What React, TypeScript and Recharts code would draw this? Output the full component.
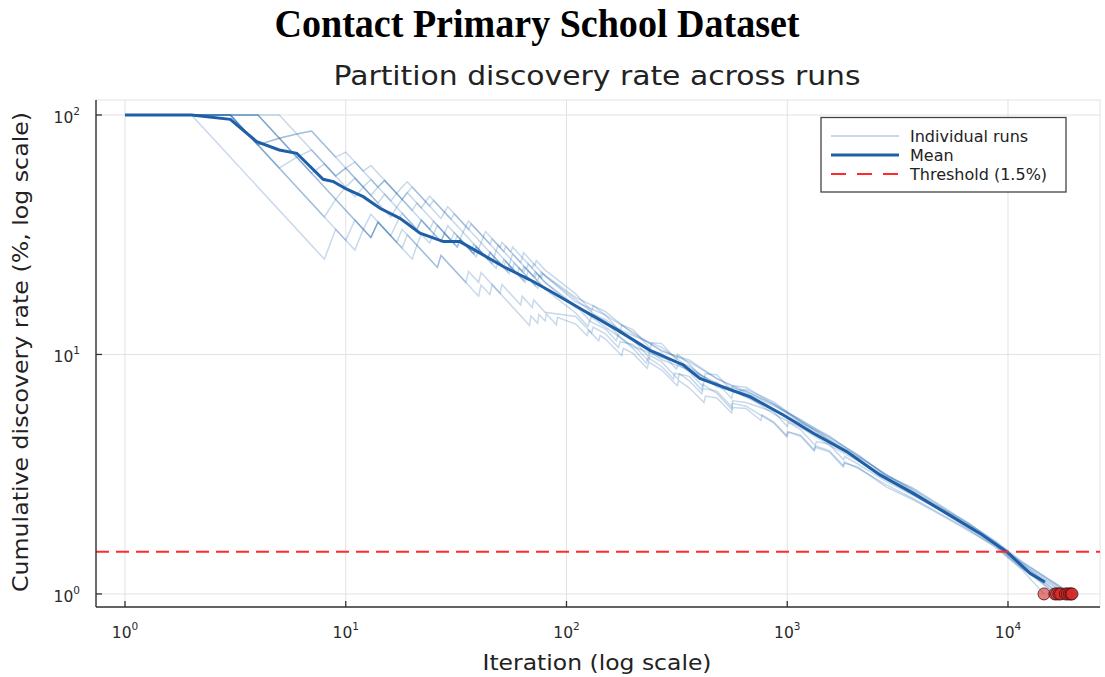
import React from 'react';
import { ComposedChart, Line, Scatter, XAxis, YAxis, CartesianGrid, ReferenceLine } from 'recharts';

type P = [number, number];

const RUN_1: P[] = [[1,100],[2,100],[8,25],[9,33.3],[11,27.3],[12,33.3],[13,30.8],[14,35.7],[17,29.4],[18,33.3],[21,28.6],[22,31.8],[24,29.2],[26,34.6],[32,28.1],[33,30.3],[37,27],[38,28.9],[44,25],[45,26.7],[51,23.5],[52,25],[57,22.8],[58,24.1],[64,21.9],[65,23.1],[71,21.1],[72,22.2],[77,20.8],[78,21.8],[110,17.3],[150,15.1],[200,12.2],[270,10.4],[360,9.31],[480,7.93],[650,7.02],[870,6.16],[1150,5.2],[1550,4.53],[2100,3.78],[2800,3.13],[3700,2.75],[5000,2.31],[6600,1.96],[8800,1.66],[11500,1.37],[19300,1.0]];
const RUN_2: P[] = [[1,100],[3,100],[10,30],[11,36.4],[13,30.8],[14,35.7],[20,25],[21,28.6],[26,23.1],[27,25.9],[40,17.5],[41,19.5],[45,17.8],[46,19.6],[68,13.2],[69,14.5],[74,13.5],[75,14.7],[80,13.8],[81,14.8],[90,13.3],[91,14.3],[110,13.4],[124,12.0],[126,12.6],[140,11.4],[142,12.0],[150,11.6],[178,9.9],[181,10.6],[200,10.1],[232,8.75],[236,9.3],[270,8.61],[318,7.4],[322,7.8],[360,7.24],[420,6.3],[426,6.7],[480,6.58],[560,5.7],[566,6.0],[650,5.95],[760,5.3],[768,5.6],[870,5.22],[1000,4.55],[1012,4.75],[1150,4.6],[1330,3.98],[1345,4.15],[1550,3.97],[1800,3.42],[1820,3.55],[2100,3.34],[2800,2.86],[3700,2.51],[5000,2.15],[6600,1.86],[8800,1.56],[11500,1.27],[14560,1.0]];
const RUN_3: P[] = [[1,100],[3,100],[4,75],[5,80],[6,83.3],[7,85.7],[12,50],[13,53.8],[16,43.8],[17,47.1],[20,40],[21,42.9],[28,32.1],[29,34.5],[33,30.3],[34,32.4],[40,27.5],[41,29.3],[47,25.5],[48,27.1],[55,23.6],[56,25],[63,22.2],[64,23.4],[72,20.8],[73,21.9],[80,20],[110,15.7],[150,14.0],[200,11.5],[270,9.5],[360,8.62],[480,7.63],[650,6.62],[870,5.87],[1150,5.15],[1550,4.31],[2100,3.67],[2800,3.01],[3700,2.64],[5000,2.28],[6600,1.94],[8800,1.61],[11500,1.35],[17000,1.0]];
const RUN_4: P[] = [[1,100],[4,100],[13,30.8],[14,35.7],[16,31.3],[17,35.3],[18,38.9],[21,33.3],[22,36.4],[27,29.6],[28,32.1],[31,29],[32,31.3],[39,25.6],[40,27.5],[44,25],[45,26.7],[52,23.1],[53,24.5],[60,21.7],[61,23],[66,21.2],[67,22.4],[74,20.3],[75,21.3],[80,20],[110,16.0],[150,13.0],[200,10.8],[270,9.7],[360,8.96],[480,7.33],[650,6.75],[870,5.64],[1150,4.95],[1550,4.18],[2100,3.59],[2800,3.07],[3700,2.59],[5000,2.22],[6600,1.92],[8800,1.63],[11500,1.32],[16300,1.0]];
const RUN_5: P[] = [[1,100],[5,100],[9,55.6],[10,60],[11,63.6],[14,50],[15,53.3],[18,44.4],[19,47.4],[20,50],[24,41.7],[25,44],[30,36.7],[31,38.7],[35,34.3],[36,36.1],[42,31],[43,32.6],[50,28],[51,29.4],[56,26.8],[57,28.1],[63,25.4],[64,26.6],[72,23.6],[73,24.7],[80,22.5],[110,17.9],[130,15.2],[132,16.0],[150,14.6],[175,12.5],[178,13.3],[200,12.7],[240,10.6],[243,11.2],[270,11.1],[315,9.5],[319,10.0],[360,9.14],[420,7.85],[425,8.3],[480,8.23],[560,7.05],[565,7.4],[650,7.29],[870,6.22],[1150,5.3],[1550,4.57],[2100,3.74],[2800,3.16],[3700,2.72],[5000,2.28],[6600,1.98],[8800,1.64],[11500,1.36],[19500,1.0]];
const RUN_6: P[] = [[1,100],[4,100],[6,66.7],[7,71.4],[9,55.6],[10,60],[14,42.9],[15,46.7],[17,41.2],[18,44.4],[24,33.3],[25,36],[32,28.1],[33,30.3],[38,26.3],[39,28.2],[48,22.9],[49,24.5],[54,22.2],[55,23.6],[64,20.3],[65,21.5],[72,19.4],[73,20.5],[80,18.75],[110,14.9],[125,13.1],[127,13.8],[150,12.8],[168,11.4],[171,12.0],[200,10.6],[230,9.2],[234,9.7],[270,8.91],[305,7.9],[309,8.35],[360,8.1],[410,7.1],[415,7.5],[480,6.88],[560,5.9],[565,6.25],[650,6.08],[870,5.17],[990,4.55],[1000,4.75],[1150,4.55],[1320,3.96],[1335,4.1],[1550,3.92],[1790,3.4],[1810,3.52],[2100,3.38],[2800,2.8],[3700,2.48],[5000,2.13],[6600,1.84],[8800,1.58],[11500,1.28],[16600,1.0]];
const RUN_7: P[] = [[1,100],[3,100],[5,60],[6,66.7],[9,44.4],[10,50],[11,54.5],[13,46.2],[14,50],[15,53.3],[18,44.4],[19,47.4],[22,40.9],[23,43.5],[27,37],[28,39.3],[34,32.4],[35,34.3],[41,29.3],[42,31],[48,27.1],[49,28.6],[56,25],[57,26.3],[66,22.7],[67,23.9],[76,21.1],[77,22.1],[80,21.25],[110,17.0],[150,13.5],[200,12.0],[270,10.7],[360,8.79],[480,7.48],[650,7.02],[870,6.22],[1150,5.25],[1550,4.4],[2100,3.74],[2800,3.16],[3700,2.69],[5000,2.24],[6600,1.94],[8800,1.61],[11500,1.33],[18600,1.0]];
const RUN_8: P[] = [[1,100],[3,100],[4,75],[8,37.5],[9,44.4],[12,33.3],[13,38.5],[18,27.8],[19,31.6],[26,23.1],[27,25.9],[35,20],[36,22.2],[40,20],[41,22],[50,18],[51,19.6],[62,16.1],[63,17.5],[70,15.7],[71,16.9],[80,15],[110,14.4],[130,12.3],[132,13.0],[150,12.2],[172,10.7],[175,11.3],[200,11.0],[235,9.4],[239,9.9],[270,9.31],[320,7.9],[325,8.3],[360,7.76],[410,6.85],[416,7.2],[480,7.03],[560,6.05],[566,6.4],[650,6.3],[870,5.75],[1000,5.0],[1012,5.2],[1150,4.85],[1340,4.17],[1355,4.33],[1550,4.22],[1800,3.63],[1820,3.75],[2100,3.48],[2800,2.95],[3700,2.59],[5000,2.22],[6600,1.88],[8800,1.59],[11500,1.29],[17300,1.0]];
const RUN_9: P[] = [[1,100],[4,100],[5,80],[6,83.3],[7,85.7],[9,66.7],[10,70],[12,58.3],[13,61.5],[17,47.1],[18,50],[19,52.6],[23,43.5],[24,45.8],[28,39.3],[29,41.4],[36,33.3],[37,35.1],[45,28.9],[46,30.4],[52,26.9],[53,28.3],[62,24.2],[63,25.4],[70,22.9],[71,23.9],[80,21.25],[110,16.6],[150,14.6],[200,12.4],[270,10.3],[360,9.48],[480,7.93],[650,6.89],[870,6.1],[1150,5.35],[1550,4.48],[2100,3.81],[2800,3.13],[3700,2.77],[5000,2.33],[6600,1.98],[8800,1.64],[11500,1.35],[19000,1.0]];
const RUN_10: P[] = [[1,100],[3,100],[4,75],[5,80],[7,57.1],[8,62.5],[11,45.5],[12,50],[16,37.5],[17,41.2],[21,33.3],[22,36.4],[27,29.6],[28,32.1],[30,30],[31,32.3],[38,26.3],[39,28.2],[46,23.9],[47,25.5],[55,21.8],[56,23.2],[65,20],[66,21.2],[74,18.9],[75,20],[80,18.75],[110,16.0],[128,13.8],[130,14.5],[150,13.8],[172,12.0],[175,12.6],[200,11.5],[235,9.8],[238,10.4],[270,10.1],[315,8.7],[320,9.1],[360,8.45],[415,7.35],[420,7.75],[480,7.63],[560,6.55],[566,6.9],[650,7.16],[870,6.34],[1150,5.25],[1550,4.4],[2100,3.63],[2800,3.1],[3700,2.67],[5000,2.24],[6600,1.92],[8800,1.59],[11500,1.31],[18200,1.0]];

const RUNS: P[][] = [RUN_1, RUN_2, RUN_3, RUN_4, RUN_5, RUN_6, RUN_7, RUN_8, RUN_9, RUN_10];

const MEAN: P[] = [[1,100],[2,100],[3,95.9],[3.95,77.4],[5,71.4],[6,69.2],[7.9,53.9],[8.8,52.7],[10.1,49],[12,45.6],[14.3,40.8],[17.6,37],[18.9,35.3],[21.7,32.1],[27.7,29.6],[32.9,29.6],[40.6,26.5],[51.7,23.3],[68.3,20.5],[84.2,18.4],[119,15.3],[169,12.7],[239,10.4],[338,9.04],[402,7.95],[532,7.22],[678,6.66],[960,5.59],[1312,4.69],[1858,3.93],[2630,3.14],[3726,2.63],[5275,2.17],[7470,1.79],[9860,1.5],[12580,1.22],[14700,1.12]];

const RUN_ENDS = [14560, 16300, 16600, 17000, 17300, 18200, 18600, 19000, 19300, 19500];
const END_RATE = 1;
const THRESHOLD = 1.5;

const X_TICKS = [1, 10, 100, 1000, 10000];
const Y_TICKS = [1, 10, 100];

const TITLE = 'Contact Primary School Dataset';
const SUBTITLE = 'Partition discovery rate across runs';
const X_LABEL = 'Iteration (log scale)';
const Y_LABEL = 'Cumulative discovery rate (%, log scale)';
const LEGEND_LABELS = ['Individual runs', 'Mean', 'Threshold (1.5%)'];

const MEAN_COLOR = '#1f5fa6';
const RUN_COLOR = '#2b6cb0';
const RED = '#ff2a2a';
const AXIS = '#333333';
const FONT = '"DejaVu Sans", Arial, sans-serif';

const toObj = (arr: P[]) => arr.map(([x, y]) => ({ x, y }));

const XTick = (props: any) => {
  const { x, y, payload } = props;
  const e = Math.round(Math.log10(payload.value));
  return (
    <g>
      <line x1={x} x2={x} y1={y} y2={y - 6} stroke={AXIS} strokeWidth={1.3} />
      <text x={x} y={y + 31} textAnchor="middle" fontFamily={FONT} fontSize={15.5} fill="#2a2a2a">
        10<tspan dy={-8} fontSize={10.5}>{e}</tspan>
      </text>
    </g>
  );
};

const YTick = (props: any) => {
  const { x, y, payload } = props;
  const e = Math.round(Math.log10(payload.value));
  return (
    <g>
      <line x1={x} x2={x + 6} y1={y} y2={y} stroke={AXIS} strokeWidth={1.3} />
      <text x={x - 16} y={y + 8} textAnchor="end" fontFamily={FONT} fontSize={15.5} fill="#2a2a2a">
        10<tspan dy={-8} fontSize={10.5}>{e}</tspan>
      </text>
    </g>
  );
};

const Dot = (props: any) => {
  const { cx, cy } = props;
  return <circle cx={cx} cy={cy} r={6} fill="rgba(215,40,40,0.6)" stroke="#4a1010" strokeOpacity={0.8} strokeWidth={1} />;
};

export default function App() {
  return (
    <div style={{ position: 'absolute', left: 0, top: 0, width: 1105, height: 677, background: '#fff' }}>
      <ComposedChart width={1105} height={677} margin={{ top: 100, right: 5, left: 0, bottom: 0 }}>
        <CartesianGrid stroke="#e2e2e2" strokeWidth={1} />
        <XAxis
          dataKey="x"
          type="number"
          scale="log"
          domain={[0.739, 26110]}
          allowDataOverflow
          ticks={X_TICKS}
          height={70}
          tickSize={0}
          tickMargin={0}
          tickLine={false}
          axisLine={{ stroke: AXIS, strokeWidth: 1.4 }}
          tick={<XTick />}
          interval={0}
        />
        <YAxis
          dataKey="y"
          type="number"
          scale="log"
          domain={[0.882, 115.5]}
          allowDataOverflow
          ticks={Y_TICKS}
          width={96}
          tickSize={0}
          tickMargin={0}
          tickLine={false}
          axisLine={{ stroke: AXIS, strokeWidth: 1.4 }}
          tick={<YTick />}
          interval={0}
        />
        {RUNS.map((r, i) => (
          <Line
            key={'run' + i}
            data={toObj(r)}
            dataKey="y"
            type="linear"
            stroke={RUN_COLOR}
            strokeOpacity={0.26}
            strokeWidth={1.5}
            dot={false}
            activeDot={false}
            isAnimationActive={false}
          />
        ))}
        <Line
          data={toObj(MEAN)}
          dataKey="y"
          type="linear"
          stroke={MEAN_COLOR}
          strokeWidth={3}
          dot={false}
          activeDot={false}
          isAnimationActive={false}
        />
        <ReferenceLine y={THRESHOLD} stroke={RED} strokeWidth={2} strokeDasharray="13 7" />
        <Scatter
          data={RUN_ENDS.map((x) => ({ x, y: END_RATE }))}
          dataKey="y"
          shape={<Dot />}
          isAnimationActive={false}
        />
      </ComposedChart>
      <svg width={1105} height={677} style={{ position: 'absolute', left: 0, top: 0, pointerEvents: 'none' }}>
        <text x={537} y={37} textAnchor="middle" fontFamily='"Liberation Serif", "Times New Roman", serif' fontWeight="bold" fontSize={39} textLength={525} lengthAdjust="spacingAndGlyphs" fill="#000">{TITLE}</text>
        <text x={597} y={85} textAnchor="middle" fontFamily={FONT} fontSize={26} textLength={527} lengthAdjust="spacingAndGlyphs" fill="#222">{SUBTITLE}</text>
        <text x={597} y={670} textAnchor="middle" fontFamily={FONT} fontSize={21} textLength={229} lengthAdjust="spacingAndGlyphs" fill="#222">{X_LABEL}</text>
        <text transform="translate(28,352) rotate(-90)" x={0} y={0} textAnchor="middle" fontFamily={FONT} fontSize={21} textLength={480} lengthAdjust="spacingAndGlyphs" fill="#222">{Y_LABEL}</text>
        <g>
          <rect x={821} y={117.5} width={245} height={74.5} fill="#fff" stroke="#444" strokeWidth={1.3} />
          <line x1={831} x2={899} y1={136} y2={136} stroke="#c9d9ec" strokeWidth={2} />
          <line x1={831} x2={899} y1={155} y2={155} stroke={MEAN_COLOR} strokeWidth={3} />
          <line x1={831} x2={899} y1={174} y2={174} stroke={RED} strokeWidth={2} strokeDasharray="15 11" />
          <text x={910} y={141.5} fontFamily={FONT} fontSize={16} fill="#222">{LEGEND_LABELS[0]}</text>
          <text x={910} y={160.5} fontFamily={FONT} fontSize={16} fill="#222">{LEGEND_LABELS[1]}</text>
          <text x={910} y={179.5} fontFamily={FONT} fontSize={16} fill="#222">{LEGEND_LABELS[2]}</text>
        </g>
      </svg>
    </div>
  );
}
